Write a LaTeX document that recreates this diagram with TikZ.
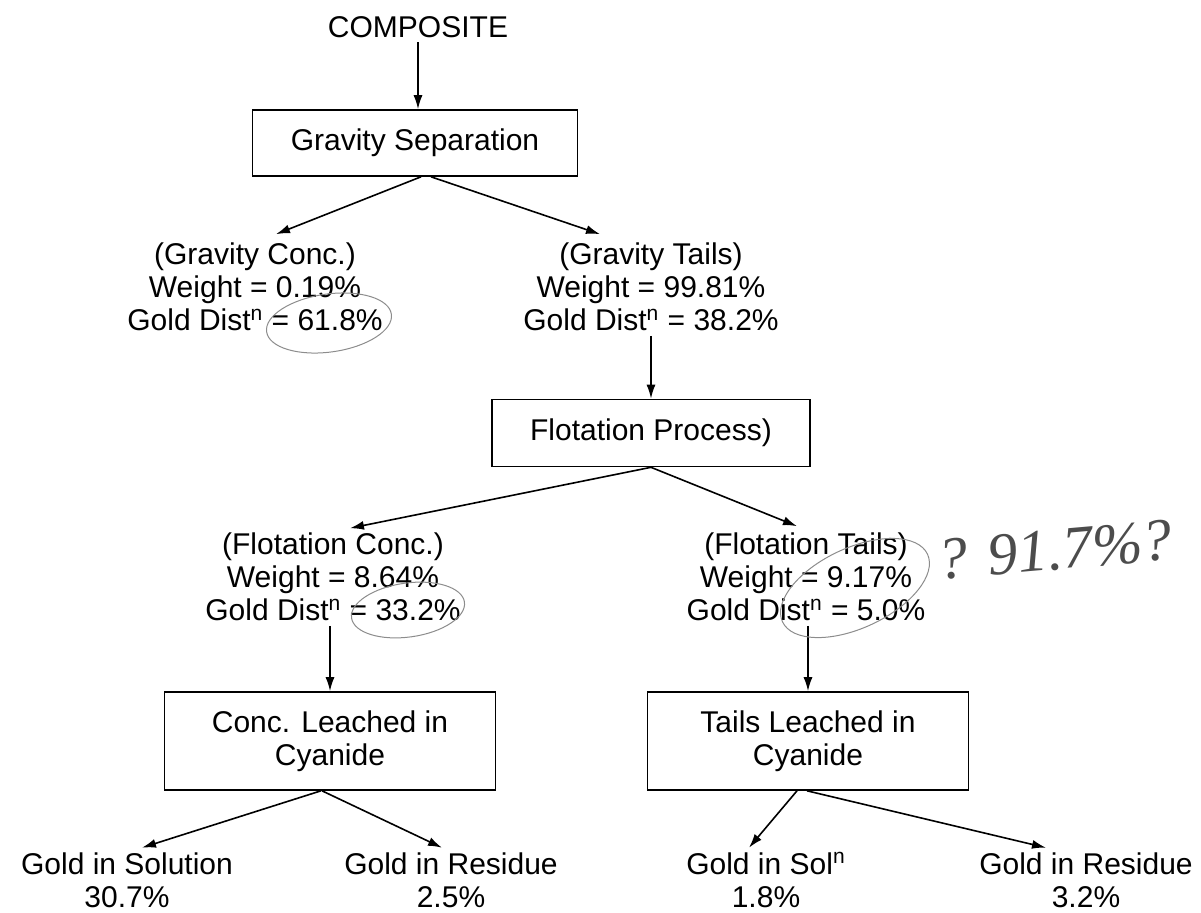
\documentclass[tikz,border=0pt]{standalone}
\usepackage{fontspec}
\setmainfont{Liberation Sans}
\newfontfamily\handfont{Liberation Serif}
\usetikzlibrary{arrows.meta}
\newcommand{\supn}{\smash{\textsuperscript{n}}}

\begin{document}
\begin{tikzpicture}[x=0.5pt,y=-0.5pt,line width=0.8pt,
    >={Latex[length=7pt,width=4.5pt]},
    font=\fontsize{15}{16.5}\selectfont,
    pnode/.style={draw,align=center},
    tnode/.style={align=center,inner sep=2pt},
    annot/.style={draw=black!45,line width=0.5pt},
    hand/.style={font=\handfont\itshape\fontsize{30}{30}\selectfont,text=black!70,rotate=5}]
    \useasboundingbox (0,0) rectangle (1201,912);

    \node[tnode] (comp) at (418,27) {COMPOSITE};
    \node[pnode,minimum width=162.5pt,minimum height=33pt] (gsep) at (415,143) {Gravity Separation};
    \node[tnode] (gconc) at (255,287) {(Gravity Conc.)\\Weight = 0.19\%\\Gold Dist\supn{} = 61.8\%};
    \node[tnode] (gtails) at (651,287) {(Gravity Tails)\\Weight = 99.81\%\\Gold Dist\supn{} = 38.2\%};
    \node[pnode,minimum width=159pt,minimum height=33.5pt] (flot) at (651,433) {Flotation Process)};
    \node[tnode] (fconc) at (333,577) {(Flotation Conc.)\\Weight = 8.64\%\\Gold Dist\supn{} = 33.2\%};
    \node[tnode] (ftails) at (806,577) {(Flotation Tails)\\Weight = 9.17\%\\Gold Dist\supn{} = 5.0\%};
    \node[pnode,minimum width=165.5pt,minimum height=49pt] (cleach) at (330,741) {Conc. Leached in\\Cyanide};
    \node[pnode,minimum width=160.5pt,minimum height=49pt] (tleach) at (808,741) {Tails Leached in\\Cyanide};
    \node[tnode] (gsol) at (127,880) {Gold in Solution\\30.7\%};
    \node[tnode] (gres1) at (451,880) {Gold in Residue\\2.5\%};
    \node[tnode] (gsoln) at (766,880) {Gold in Sol\supn\\1.8\%};
    \node[tnode] (gres2) at (1086,880) {Gold in Residue\\3.2\%};

    \draw[->] (comp.south) -- (comp.south |- gsep.north) ;
    \draw[->] ([xshift=3pt]gsep.south) -- ([xshift=10.5pt,yshift=2pt]gconc.north) ;
    \draw[->] ([xshift=8pt]gsep.south) -- ([xshift=-25.5pt,yshift=2pt]gtails.north) ;

    \draw[->] (gtails.south) -- (gtails.south |- flot.north) ;
    \draw[->] (flot.south) -- ([xshift=8.5pt]fconc.north) ;
    \draw[->] (flot.south) -- ([xshift=-4.5pt,yshift=1pt]ftails.north) ;

    \draw[->] (cleach.north |- fconc.south) -- (cleach.north) ;
    \draw[->] (tleach.north |- ftails.south) -- (tleach.north) ;

    \draw[->] ([xshift=-4.5pt]cleach.south) -- ([xshift=7.5pt]gsol.north) ;
    \draw[->] ([xshift=-4pt]cleach.south) -- ([xshift=-4.5pt]gres1.north) ;
    \draw[->] ([xshift=-5.5pt]tleach.south) -- ([xshift=-8.5pt]gsoln.north) ;
    \draw[->] ([xshift=-0.5pt]tleach.south) -- ([xshift=-20pt]gres2.north) ;

    % pencil marks
    \draw[annot,rotate around={8:(329,323)}] (329,323) ellipse [x radius=63,y radius=29] ;
    \draw[annot,rotate around={8:(408,610)}] (408,610) ellipse [x radius=57,y radius=27] ;
    \draw[annot,rotate around={25:(855,588)}] (855,588) ellipse [x radius=80,y radius=40] ;
    \node[hand] (note) at (1055,550) {? 91.7\%?};
\end{tikzpicture}
\end{document}
